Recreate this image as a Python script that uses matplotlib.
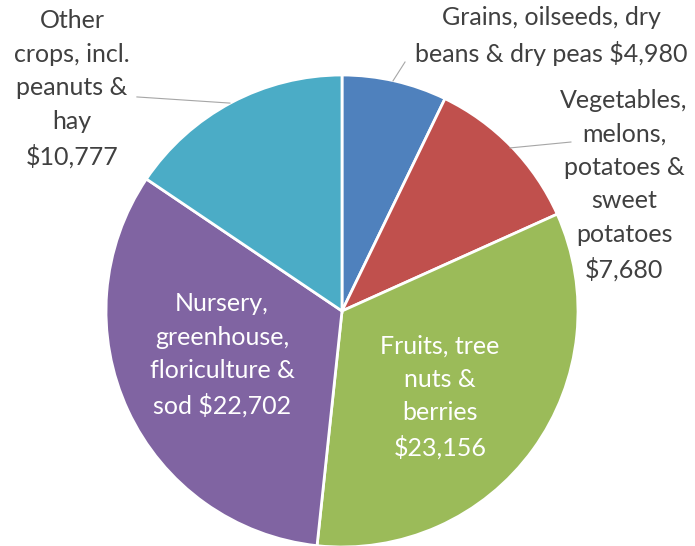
import matplotlib
matplotlib.use("Agg")
import matplotlib.pyplot as plt

plt.rcParams['font.family'] = ['Lato', 'DejaVu Sans']

# crop sales, $ millions
categories = ["Grains, oilseeds, dry\nbeans & dry peas",
              "Vegetables,\nmelons,\npotatoes &\nsweet\npotatoes",
              "Fruits, tree\nnuts &\nberries",
              "Nursery,\ngreenhouse,\nfloriculture &\nsod",
              "Other\ncrops, incl.\npeanuts &\nhay"]
values = [4980, 7680, 23156, 22702, 10777]
colors = ["#4F81BD", "#C0504D", "#9BBB59", "#8064A2", "#4BACC6"]

fig = plt.figure(figsize=(6.95, 5.46), dpi=100)
# pie centre ~ (342, 311) px, radius ~236 px
ax = fig.add_axes([(342 - 236) / 695, (546 - 311 - 236) / 546, 472 / 695, 472 / 546])
ax.pie(values, colors=colors, startangle=90, counterclock=False,
       wedgeprops=dict(edgecolor="white", linewidth=2))
ax.set_xlim(-1, 1)
ax.set_ylim(-1, 1)
ax.set_aspect("equal")
ax.axis("off")

txt = "#404040"
fs = 18
ls = 1.55

def money(v):
    return "${:,}".format(v)

# outside labels with leader lines
ax.text(0.886, 1.165, categories[0] + " " + money(values[0]), ha="center", va="center",
        color=txt, fontsize=fs, linespacing=ls)
ax.plot([0.267, 0.216], [1.055, 0.975], color="#a6a6a6", lw=0.8, clip_on=False)

ax.text(1.195, 0.534, categories[1] + "\n" + money(values[1]), ha="center", va="center",
        color=txt, fontsize=fs, linespacing=ls)
ax.plot([0.970, 0.712], [0.716, 0.691], color="#a6a6a6", lw=0.8, clip_on=False)

ax.text(-1.144, 0.941, categories[4] + "\n" + money(values[4]), ha="center", va="center",
        color=txt, fontsize=fs, linespacing=ls)
ax.plot([-0.869, -0.475], [0.907, 0.881], color="#a6a6a6", lw=0.8, clip_on=False)

# inside labels
ax.text(0.415, -0.364, categories[2] + "\n" + money(values[2]), ha="center", va="center",
        color="white", fontsize=fs, linespacing=ls)
ax.text(-0.508, -0.186, categories[3] + " " + money(values[3]), ha="center", va="center",
        color="white", fontsize=fs, linespacing=ls)

fig.savefig("out.png", dpi=100)
